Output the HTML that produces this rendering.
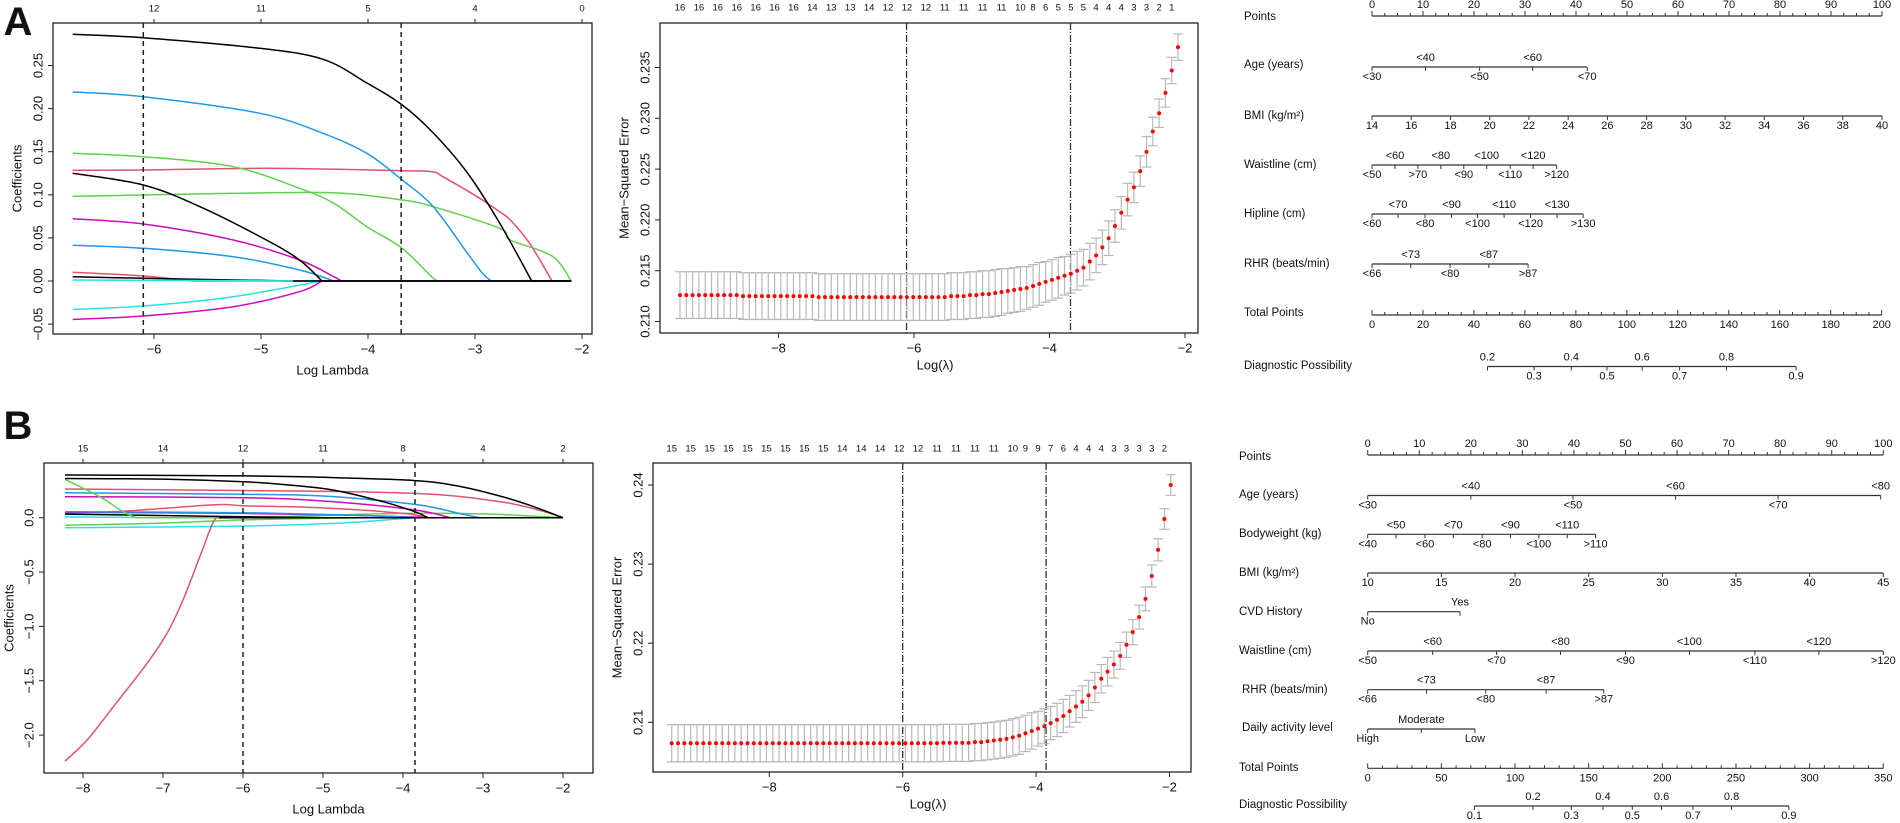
<!DOCTYPE html>
<html><head><meta charset="utf-8"><style>
html,body{margin:0;padding:0;background:#fff}
svg{display:block;font-family:"Liberation Sans",Arial,sans-serif}
</style></head><body>
<svg id="fig" width="1900" height="823" viewBox="0 0 1900 823" xmlns="http://www.w3.org/2000/svg"></svg>
<script>
// ===== Panel A: coefficient paths =====
const aBlack1Lam=[-6.76,-6.10,-5.01,-4.42,-4.01,-3.68,-3.39,-3.07,-2.77,-2.47];
const aBlack1Coef=[0.2862,0.2822,0.2700,0.2572,0.2297,0.2042,0.1717,0.1253,0.0673,0];
const aBlue1Lam=[-6.76,-6.10,-5.01,-4.42,-4.01,-3.68,-3.39,-3.07,-2.93,-2.85];
const aBlue1Coef=[0.2193,0.2138,0.1945,0.1713,0.1481,0.1172,0.0862,0.0321,0.0089,0];
const aGreen1Lam=[-6.76,-6.10,-5.26,-4.64,-4.32,-4.01,-3.68,-3.40,-3.33];
const aGreen1Coef=[0.1481,0.1442,0.1326,0.1075,0.0901,0.0630,0.0379,0.0043,0];
const aRed1Lam=[-6.76,-6.10,-4.95,-3.68,-3.40,-3.30,-2.98,-2.77,-2.67,-2.49,-2.28];
const aRed1Coef=[0.1284,0.1288,0.1307,0.1280,0.1268,0.1210,0.0978,0.0804,0.0708,0.0437,0];
const aGreen2Lam=[-6.76,-6.10,-5.26,-4.32,-3.68,-3.39,-2.77,-2.67,-2.28,-2.10];
const aGreen2Coef=[0.0983,0.0998,0.1017,0.1024,0.0940,0.0862,0.0611,0.0476,0.0290,0];
const aBlack2Lam=[-6.76,-6.10,-5.57,-4.95,-4.64,-4.43];
const aBlack2Coef=[0.1249,0.1114,0.0862,0.0476,0.0244,0];
const aMag1Lam=[-6.76,-6.10,-5.26,-4.64,-4.32,-4.25];
const aMag1Coef=[0.0723,0.0661,0.0476,0.0244,0.0050,0];
const aBlue2Lam=[-6.76,-6.10,-5.26,-4.64,-4.32];
const aBlue2Coef=[0.0414,0.0379,0.0282,0.0128,0];
const aRed2Lam=[-6.76,-6.10,-5.63];
const aRed2Coef=[0.0101,0.0058,0];
const aBlack3Lam=[-6.76,-6.10,-4.70];
const aBlack3Coef=[0.0050,0.0031,0];
const aCyan1Lam=[-6.76,-4.45];
const aCyan1Coef=[0.0012,0];
const aCyan2Lam=[-6.76,-6.10,-5.26,-4.43];
const aCyan2Coef=[-0.0329,-0.0290,-0.0182,0];
const aMag2Lam=[-6.76,-6.10,-5.26,-4.64,-4.43];
const aMag2Coef=[-0.0445,-0.0406,-0.0298,-0.0124,0];
const aTopLam=[-6,-5,-4,-3,-2];
const aTopLab=["12","11","5","4","0"];
const aXTicks=[-6,-5,-4,-3,-2];
const aYTicks=[-0.05,0,0.05,0.10,0.15,0.20,0.25];
const aCuts=[-6.10,-3.69];

// ===== Panel B: coefficient paths =====
const bBlack1Lam=[-8.225,-6,-5,-3.85,-3.3,-2.79,-2.4,-2];
const bBlack1Coef=[0.393,0.385,0.372,0.341,0.29,0.20,0.11,0];
const bBlack2Lam=[-8.225,-7,-6,-5.5,-4.87,-4.25,-3.85,-3.69];
const bBlack2Coef=[0.361,0.355,0.331,0.305,0.254,0.147,0.055,0];
const bRed1Lam=[-8.225,-6,-3.85,-2.79,-2.3,-2];
const bRed1Coef=[0.264,0.25,0.224,0.147,0.07,0];
const bBlue1Lam=[-8.225,-6,-5,-3.85,-3.3,-3.04];
const bBlue1Coef=[0.230,0.215,0.20,0.122,0.04,0];
const bMag1Lam=[-8.225,-6,-4.87,-3.85,-3.41];
const bMag1Coef=[0.193,0.184,0.147,0.071,0];
const bGreen1Lam=[-8.225,-7.79,-7.5,-7.33];
const bGreen1Coef=[0.352,0.193,0.055,0];
const bRed2Lam=[-8.225,-7.5,-6.35,-6,-5,-4,-3.7];
const bRed2Coef=[0.045,0.06,0.12,0.11,0.09,0.04,0];
const bGreen2Lam=[-8.225,-7,-6,-5,-4.5];
const bGreen2Coef=[-0.07,-0.05,-0.02,-0.005,0];
const bGreen3Lam=[-6,-5,-4,-3,-2];
const bGreen3Coef=[0,0.02,0.04,0.035,0];
const bCyan1Lam=[-8.225,-6,-4.87,-3.85];
const bCyan1Coef=[-0.092,-0.077,-0.052,0];
const bCyan2Lam=[-8.225,-7];
const bCyan2Coef=[0.007,0];
const bBlue2Lam=[-8.225,-6,-4.5,-3.85];
const bBlue2Coef=[0.055,0.046,0.02,0];
const bBlack3Lam=[-8.225,-6,-5];
const bBlack3Coef=[0.033,0.009,0];
const bMag2Lam=[-8.225,-6,-4.5,-3.6];
const bMag2Coef=[0.049,0.04,0.02,0];
const bRed3Lam=[-8.225,-7.95,-7.62,-7.2,-6.95,-6.75,-6.54,-6.37,-6.29];
const bRed3Coef=[-2.239,-2.046,-1.739,-1.340,-1.064,-0.757,-0.359,-0.037,0];
const bTopLam=[-8,-7,-6,-5,-4,-3,-2];
const bTopLab=["15","14","12","11","8","4","2"];
const bXTicks=[-8,-7,-6,-5,-4,-3,-2];
const bYTicks=[-2.0,-1.5,-1.0,-0.5,0.0];
const bCuts=[-6.0,-3.85];

// ===== CV MSE A =====
const mseALamStart=-9.454, mseALamStep=0.09305;
const mseA=[.2126,.2126,.2126,.2126,.2126,.2126,.2126,.2126,.2126,.2126,
.2125,.2125,.2125,.2125,.2125,.2125,.2125,.2125,.2125,.2125,
.2125,.2125,.2124,.2124,.2124,.2124,.2124,.2124,.2124,.2124,
.2124,.2124,.2124,.2124,.2124,.2124,.2124,.2124,.2124,.2124,
.2124,.2124,.2124,.2125,.2125,.2125,.2126,.2126,.2127,.2127,
.2128,.2129,.2130,.2131,.2132,.2133,.2135,.2137,.2139,.2141,
.2143,.2145,.2147,.2150,.2153,.2159,.2165,.2173,.2182,.2194,
.2207,.2220,.2232,.2248,.2267,.2287,.2305,.2325,.2347,.2370];
const seA=[.0023,.0023,.0023,.0023,.0023,.0023,.0023,.0023,.0023,.0023,
.0023,.0023,.0023,.0023,.0023,.0023,.0023,.0023,.0023,.0023,
.0023,.0023,.0023,.0023,.0023,.0023,.0023,.0023,.0023,.0023,
.0023,.0023,.0023,.0023,.0023,.0023,.0023,.0023,.0023,.0023,
.0023,.0023,.0023,.0023,.0023,.0023,.0023,.0023,.0023,.0023,
.0023,.0023,.0022,.0022,.0022,.0021,.0021,.0021,.0020,.0020,
.0020,.0019,.0019,.0019,.0018,.0018,.0017,.0017,.0017,.0016,
.0016,.0016,.0015,.0015,.0015,.0014,.0014,.0014,.0013,.0013];
const mseATopIdx=[0,3,6,9,12,15,18,21,24,27,30,33,36,39,42,45,48,51,54,56,58,60,62,64,66,68,70,72,74,76,78];
const mseATopLab=["16","16","16","16","16","16","16","14","13","13","14","12","12","12","11","11","11","11","10","8","6","5","5","5","4","4","4","3","3","2","1"];
const mseAXTicks=[-8,-6,-4,-2];
const mseAYTicks=[0.210,0.215,0.220,0.225,0.230,0.235];

// ===== CV MSE B =====
const mseBLamStart=-9.463, mseBLamStep=0.0947;
const mseB=[.20735,.20735,.20735,.20735,.20735,.20735,.20735,.20735,.20735,.20735,
.20735,.20735,.20735,.20735,.20735,.20735,.20735,.20735,.20735,.20735,
.20735,.20735,.20735,.20735,.20735,.20735,.20735,.20735,.20735,.20735,
.20735,.20735,.20735,.20735,.20735,.20735,.20735,.20735,.20735,.20735,
.20735,.20735,.20735,.2074,.2074,.2074,.2074,.2074,.2075,.2075,
.2076,.2077,.2078,.2079,.2081,.2083,.2086,.2089,.2092,.2095,
.2099,.2103,.2108,.2114,.2120,.2126,.2134,.2144,.2155,.2164,
.2173,.2184,.2198,.2214,.2233,.2256,.2285,.2318,.2357,.2400];
const seB=[.00235,.00235,.00235,.00235,.00235,.00235,.00235,.00235,.00235,.00235,
.00235,.00235,.00235,.00235,.00235,.00235,.00235,.00235,.00235,.00235,
.00235,.00235,.00235,.00235,.00235,.00235,.00235,.00235,.00235,.00235,
.00235,.00235,.00235,.00235,.00235,.00235,.00235,.00235,.00235,.00235,
.00235,.00235,.00235,.00235,.00235,.00235,.00235,.00235,.00235,.00235,
.00235,.00235,.00235,.00235,.00235,.00235,.0023,.0023,.0022,.0022,
.0021,.0021,.0021,.0020,.0020,.0020,.0019,.0019,.0018,.0018,
.0017,.0017,.0016,.0016,.0015,.0015,.0014,.0014,.0013,.0013];
const mseBTopIdx=[0,3,6,9,12,15,18,21,24,27,30,33,36,39,42,45,48,51,54,56,58,60,62,64,66,68,70,72,74,76,78];
const mseBTopLab=["15","15","15","15","15","15","15","15","15","14","14","14","12","12","11","11","11","11","10","9","9","7","6","4","4","4","3","3","3","3","2"];
const mseBXTicks=[-8,-6,-4,-2];
const mseBYTicks=[0.21,0.22,0.23,0.24];

// ===== Nomogram A =====
const nomAPointsMajor=[0,10,20,30,40,50,60,70,80,90,100];
const nomAAgeLab=["<30","<40","<50","<60","<70"];
const nomAAgePts=[0,10.5,21.1,31.5,42.2];
const nomABmiVals=[14,16,18,20,22,24,26,28,30,32,34,36,38,40];
const nomAWaistLab=["<50","<60",">70","<80","<90","<100","<110","<120",">120"];
const nomAWaistPts=[0,4.5,9.0,13.5,18.0,22.5,27.1,31.6,36.2];
const nomAHipLab=["<60","<70","<80","<90","<100","<110","<120","<130",">130"];
const nomAHipPts=[0,5.1,10.4,15.6,20.7,25.9,31.1,36.3,41.4];
const nomARhrLab=["<66","<73","<80","<87",">87"];
const nomARhrPts=[0,7.6,15.3,22.9,30.6];
const nomATotalMajor=[0,20,40,60,80,100,120,140,160,180,200];
const nomADiagLab=["0.2","0.3","0.4","0.5","0.6","0.7","0.8","0.9"];
const nomADiagTot=[45.3,63.6,78.2,92.2,106.0,120.7,139.1,166.4];

// ===== Nomogram B =====
const nomBPointsMajor=[0,10,20,30,40,50,60,70,80,90,100];
const nomBAgeLab=["<30","<40","<50","<60","<70","<80"];
const nomBAgePts=[0,20.0,39.8,59.7,79.6,99.5];
const nomBBwLab=["<40","<50","<60","<70","<80","<90","<100","<110",">110"];
const nomBBwPts=[0,5.5,11.1,16.6,22.2,27.7,33.2,38.7,44.2];
const nomBBmiVals=[10,15,20,25,30,35,40,45];
const nomBCvdLab=["No","Yes"];
const nomBCvdPts=[0,17.9];
const nomBWaistLab=["<50","<60","<70","<80","<90","<100","<110","<120",">120"];
const nomBWaistPts=[0,12.6,25.0,37.4,50.0,62.4,75.1,87.5,100];
const nomBRhrLab=["<66","<73","<80","<87",">87"];
const nomBRhrPts=[0,11.4,22.9,34.6,45.8];
const nomBActLab=["High","Moderate","Low"];
const nomBActPts=[0,10.4,20.8];
const nomBTotalMajor=[0,50,100,150,200,250,300,350];
const nomBDiagLab=["0.1","0.2","0.3","0.4","0.5","0.6","0.7","0.8","0.9"];
const nomBDiagTot=[72.4,112.2,138.2,159.7,179.6,199.5,220.8,247.0,285.9];

const NS="http://www.w3.org/2000/svg";
const svg=document.getElementById('fig');
function mk(tag,attrs,name,parent){
  const e=document.createElementNS(NS,tag);
  for(const k in attrs) e.setAttribute(k,attrs[k]);
  
  
  (parent||svg).appendChild(e);
  return e;
}
function line(x1,y1,x2,y2,name,stroke,w,dash,parent){
  const a={x1:x1,y1:y1,x2:x2,y2:y2,stroke:stroke||'#222','stroke-width':w||1};
  if(dash) a['stroke-dasharray']=dash;
  return mk('line',a,name,parent);
}
function txt(x,y,s,size,anchor,name,rot,parent,weight){
  const a={x:x,y:y,'font-size':size,'text-anchor':anchor||'middle','dominant-baseline':'central',fill:'#111'};
  if(rot) a.transform='rotate('+rot+' '+x+' '+y+')';
  if(weight) a['font-weight']=weight;
  const t=mk('text',a,name,parent);
  t.textContent=s;
  return t;
}
function fmt(v,d){return (v<0?'\u2212':'')+Math.abs(v).toFixed(d);}
function smoothPath(pts){
  if(pts.length<3){return 'M'+pts.map(p=>p[0].toFixed(1)+','+p[1].toFixed(1)).join(' L');}
  let d='M'+pts[0][0].toFixed(1)+','+pts[0][1].toFixed(1);
  for(let i=0;i<pts.length-1;i++){
    const p0=pts[Math.max(0,i-1)],p1=pts[i],p2=pts[i+1],p3=pts[Math.min(pts.length-1,i+2)];
    const c1=[p1[0]+(p2[0]-p0[0])/6,p1[1]+(p2[1]-p0[1])/6];
    const c2=[p2[0]-(p3[0]-p1[0])/6,p2[1]-(p3[1]-p1[1])/6];
    d+=' C'+c1[0].toFixed(1)+','+c1[1].toFixed(1)+' '+c2[0].toFixed(1)+','+c2[1].toFixed(1)+' '+p2[0].toFixed(1)+','+p2[1].toFixed(1);
  }
  return d;
}
const COL={black:'#000',red:'#DF536B',green:'#61D04F',blue:'#2297E6',cyan:'#28E2E5',mag:'#CD0BBC'};

// ---------- Coefficient panel ----------
function coefPanel(P){
  const g=mk('g',{},P.name);
  mk('rect',{x:P.L,y:P.T,width:P.R-P.L,height:P.B-P.T,fill:'none',stroke:'#222','stroke-width':1.3},'plot-frame',g);
  P.series.forEach(s=>{
    const pts=s.lam.map((l,i)=>[P.x(l),P.y(s.coef[i])]);
    mk('path',{d:smoothPath(pts),fill:'none',stroke:COL[s.col],'stroke-width':1.5},'coef-path-'+s.id,g);
    const last=s.lam[s.lam.length-1];
    if(last<P.lamEnd){
      line(P.x(last),P.y(0),P.x(P.lamEnd),P.y(0),'coef-zero-tail-'+s.id,COL[s.col],1.5,null,g);
    }
  });
  line(P.x(P.zeroFrom),P.y(0),P.x(P.lamEnd),P.y(0),'zero-line',COL.black,1.5,null,g);
  P.cuts.forEach((c,i)=>line(P.x(c),P.T,P.x(c),P.B,'lambda-cutoff-'+(i?'1se':'min'),'#222',1.5,'5,4',g));
  P.xt.forEach(v=>{
    line(P.x(v),P.B,P.x(v),P.B+5,'x-tick',null,1,null,g);
    txt(P.x(v),P.B+15,fmt(v,0),13,'middle','x-tick-label',0,g);
  });
  P.yt.forEach(v=>{
    line(P.L-5,P.y(v),P.L,P.y(v),'y-tick',null,1,null,g);
    txt(P.L-15,P.y(v),fmt(v,P.yd),13,'middle','y-tick-label',-90,g);
  });
  P.topLam.forEach((l,i)=>{
    line(P.x(l),P.T-4,P.x(l),P.T,'top-tick',null,1,null,g);
    txt(P.x(l),P.T-14,P.topLab[i],9.5,'middle','top-count-label',0,g);
  });
  txt((P.L+P.R)/2+10,P.B+36,'Log Lambda',13,'middle','x-axis-title',0,g);
  txt(P.yTitleX,(P.T+P.B)/2,'Coefficients',13,'middle','y-axis-title',-90,g);
}
const xA=l=>582+(l+2)*107, yA=c=>281-c*862;
const xB=l=>563+(l+2)*80, yB=c=>517.7-c*108.7;
coefPanel({name:'panel-a-coef-path-chart',L:53,R:592,T:23,B:334,x:xA,y:yA,lamEnd:-2.1,zeroFrom:-4.7,yd:2,
  xt:aXTicks,yt:aYTicks,topLam:aTopLam,topLab:aTopLab,cuts:aCuts,yTitleX:17,
  series:[
   {id:'a-green2',col:'green',lam:aGreen2Lam,coef:aGreen2Coef},
   {id:'a-red1',col:'red',lam:aRed1Lam,coef:aRed1Coef},
   {id:'a-green1',col:'green',lam:aGreen1Lam,coef:aGreen1Coef},
   {id:'a-blue1',col:'blue',lam:aBlue1Lam,coef:aBlue1Coef},
   {id:'a-mag1',col:'mag',lam:aMag1Lam,coef:aMag1Coef},
   {id:'a-blue2',col:'blue',lam:aBlue2Lam,coef:aBlue2Coef},
   {id:'a-red2',col:'red',lam:aRed2Lam,coef:aRed2Coef},
   {id:'a-black3',col:'black',lam:aBlack3Lam,coef:aBlack3Coef},
   {id:'a-cyan1',col:'cyan',lam:aCyan1Lam,coef:aCyan1Coef},
   {id:'a-cyan2',col:'cyan',lam:aCyan2Lam,coef:aCyan2Coef},
   {id:'a-mag2',col:'mag',lam:aMag2Lam,coef:aMag2Coef},
   {id:'a-black2',col:'black',lam:aBlack2Lam,coef:aBlack2Coef},
   {id:'a-black1',col:'black',lam:aBlack1Lam,coef:aBlack1Coef}
  ]});
coefPanel({name:'panel-b-coef-path-chart',L:44,R:593,T:463,B:773,x:xB,y:yB,lamEnd:-2.0,zeroFrom:-6.3,yd:1,
  xt:bXTicks,yt:bYTicks,topLam:bTopLam,topLab:bTopLab,cuts:bCuts,yTitleX:9,
  series:[
   {id:'b-green3',col:'green',lam:bGreen3Lam,coef:bGreen3Coef},
   {id:'b-red1',col:'red',lam:bRed1Lam,coef:bRed1Coef},
   {id:'b-blue1',col:'blue',lam:bBlue1Lam,coef:bBlue1Coef},
   {id:'b-mag1',col:'mag',lam:bMag1Lam,coef:bMag1Coef},
   {id:'b-red2',col:'red',lam:bRed2Lam,coef:bRed2Coef},
   {id:'b-mag2',col:'mag',lam:bMag2Lam,coef:bMag2Coef},
   {id:'b-blue2',col:'blue',lam:bBlue2Lam,coef:bBlue2Coef},
   {id:'b-black3',col:'black',lam:bBlack3Lam,coef:bBlack3Coef},
   {id:'b-cyan2',col:'cyan',lam:bCyan2Lam,coef:bCyan2Coef},
   {id:'b-green2',col:'green',lam:bGreen2Lam,coef:bGreen2Coef},
   {id:'b-cyan1',col:'cyan',lam:bCyan1Lam,coef:bCyan1Coef},
   {id:'b-green1',col:'green',lam:bGreen1Lam,coef:bGreen1Coef},
   {id:'b-red3',col:'red',lam:bRed3Lam,coef:bRed3Coef},
   {id:'b-black2',col:'black',lam:bBlack2Lam,coef:bBlack2Coef},
   {id:'b-black1',col:'black',lam:bBlack1Lam,coef:bBlack1Coef}
  ]});

// ---------- MSE panel ----------
function msePanel(P){
  const g=mk('g',{},P.name);
  mk('rect',{x:P.L,y:P.T,width:P.R-P.L,height:P.B-P.T,fill:'none',stroke:'#222','stroke-width':1.3},'plot-frame',g);
  P.cuts.forEach((c,i)=>line(P.x(c),P.T,P.x(c),P.B,'lambda-cutoff-'+(i?'1se':'min'),'#333',1.3,'7,2,1,2',g));
  P.mse.forEach((m,i)=>{
    const l=P.start+P.step*i, x=P.x(l), yu=P.y(m+P.se[i]), yl=P.y(m-P.se[i]);
    line(x,yu,x,yl,'error-bar',"#b8b8b8",1.2,null,g);
    line(x-5,yu,x+5,yu,'error-cap-upper',"#b8b8b8",1.2,null,g);
    line(x-5,yl,x+5,yl,'error-cap-lower',"#b8b8b8",1.2,null,g);
  });
  P.mse.forEach((m,i)=>{
    const l=P.start+P.step*i;
    mk('circle',{cx:P.x(l),cy:P.y(m),r:2,fill:'#f00'},'mse-point',g);
  });
  P.topIdx.forEach((idx,i)=>txt(P.x(P.start+P.step*idx),P.topY,P.topLab[i],9.5,'middle','top-count-label',0,g));
  P.xt.forEach(v=>{
    line(P.x(v),P.B,P.x(v),P.B+5,'x-tick',null,1,null,g);
    txt(P.x(v),P.B+15,fmt(v,0),13,'middle','x-tick-label',0,g);
  });
  P.yt.forEach(v=>{
    line(P.L-5,P.y(v),P.L,P.y(v),'y-tick',null,1,null,g);
    txt(P.L-15,P.y(v),v.toFixed(P.yd),13,'middle','y-tick-label',-90,g);
  });
  txt((P.L+P.R)/2+6,P.B+32,'Log(\u03bb)',13,'middle','x-axis-title',0,g);
  txt(P.L-36,(P.T+P.B)/2,'Mean\u2212Squared Error',13,'middle','y-axis-title',-90,g);
}
msePanel({name:'panel-a-cv-mse-chart',L:660,R:1198,T:23,B:333,x:l=>914+(l+6)*67.75,y:m=>321.5-(m-0.21)*10160,
  start:mseALamStart,step:mseALamStep,mse:mseA,se:seA,topIdx:mseATopIdx,topLab:mseATopLab,topY:8,
  xt:mseAXTicks,yt:mseAYTicks,yd:3,cuts:[-6.11,-3.69]});
msePanel({name:'panel-b-cv-mse-chart',L:653,R:1191,T:463,B:772,x:l=>902.7+(l+6)*66.7,y:m=>722.3-(m-0.21)*7910,
  start:mseBLamStart,step:mseBLamStep,mse:mseB,se:seB,topIdx:mseBTopIdx,topLab:mseBTopLab,topY:449,
  xt:mseBXTicks,yt:mseBYTicks,yd:2,cuts:[-6.0,-3.85]});

// ---------- Nomograms ----------
function nomAxis(g,N,label,ly,ay,pxArr,labArr,sideFn,lx){
  txt(lx||N.lx,ly,label,11.5,'start','row-label',0,g);
  const x0=Math.min(...pxArr),x1=Math.max(...pxArr);
  line(x0,ay,x1,ay,'axis-line','#333',1.2,null,g);
  pxArr.forEach((x,i)=>{
    const up=sideFn(i);
    line(x,ay,x,ay+4,'axis-tick','#333',1,null,g);
    txt(x,up?ay-9:ay+10,labArr[i],11,'middle','tick-label',0,g);
  });
}
function nomogram(N){
  const g=mk('g',{},N.name);
  // points scale
  const P=N.points;
  txt(N.lx,P.ly,'Points',11.5,'start','row-label',0,g);
  line(N.x(0),P.ay,N.x(100),P.ay,'points-axis-line','#333',1.2,null,g);
  for(let v=0;v<=100;v+=2.5){line(N.x(v),P.ay,N.x(v),P.ay-(v%10===0?5:3),'points-tick','#333',1,null,g);}
  P.major.forEach(v=>txt(N.x(v),P.ay-11,String(v),11,'middle','points-tick-label',0,g));
  N.rows.forEach(r=>{
    nomAxis(g,N,r.label,r.ly,r.ay,r.pts.map(N.x),r.labs,r.side,r.lx);
  });
  const T=N.total;
  txt(N.lx,T.ly,'Total Points',11.5,'start','row-label',0,g);
  line(N.tx(0),T.ay,N.tx(T.max),T.ay,'total-points-axis-line','#333',1.2,null,g);
  for(let v=0;v<=T.max;v+=T.minor){line(N.tx(v),T.ay,N.tx(v),T.ay-(v%T.step===0?5:3),'total-points-tick','#333',1,null,g);}
  T.major.forEach(v=>txt(N.tx(v),T.ay+10,String(v),11,'middle','total-points-tick-label',0,g));
  const D=N.diag;
  nomAxis(g,N,'Diagnostic Possibility',D.ly,D.ay,D.tot.map(N.tx),D.labs,D.side);
}
const alt=start=>(i=>(i%2===1)===start);
nomogram({name:'panel-a-nomogram',lx:1244,x:p=>1372+p*5.1,tx:t=>1372+t*2.5485,
  points:{ly:17,ay:16,major:nomAPointsMajor},
  rows:[
    {label:'Age (years)',ly:65,ay:67,pts:nomAAgePts,labs:nomAAgeLab,side:alt(true)},
    {label:'BMI (kg/m\u00b2)',ly:116,ay:116,pts:nomABmiVals.map(v=>(v-14)/26*100),labs:nomABmiVals.map(String),side:()=>false},
    {label:'Waistline (cm)',ly:165,ay:165,pts:nomAWaistPts,labs:nomAWaistLab,side:alt(true)},
    {label:'Hipline (cm)',ly:214,ay:214,pts:nomAHipPts,labs:nomAHipLab,side:alt(true)},
    {label:'RHR (beats/min)',ly:264,ay:264,pts:nomARhrPts,labs:nomARhrLab,side:alt(true)}
  ],
  total:{ly:313,ay:315,max:200,minor:5,step:20,major:nomATotalMajor},
  diag:{ly:366,ay:366.5,tot:nomADiagTot,labs:nomADiagLab,side:i=>i%2===0}
});
nomogram({name:'panel-b-nomogram',lx:1239,x:p=>1367.7+p*5.156,tx:t=>1367.7+t*1.4731,
  points:{ly:457,ay:455,major:nomBPointsMajor},
  rows:[
    {label:'Age (years)',ly:495,ay:495.5,pts:nomBAgePts,labs:nomBAgeLab,side:alt(true)},
    {label:'Bodyweight (kg)',ly:534,ay:534.3,pts:nomBBwPts,labs:nomBBwLab,side:alt(true)},
    {label:'BMI (kg/m\u00b2)',ly:573,ay:573,pts:nomBBmiVals.map(v=>(v-10)/35*100),labs:nomBBmiVals.map(String),side:()=>false},
    {label:'CVD History',ly:612,ay:611.7,pts:nomBCvdPts,labs:nomBCvdLab,side:alt(true)},
    {label:'Waistline (cm)',ly:651,ay:651,pts:nomBWaistPts,labs:nomBWaistLab,side:alt(true)},
    {label:'RHR (beats/min)',ly:690,ay:689.7,pts:nomBRhrPts,labs:nomBRhrLab,side:alt(true),lx:1242},
    {label:'Daily activity level',ly:728,ay:729,pts:nomBActPts,labs:nomBActLab,side:alt(true),lx:1242}
  ],
  total:{ly:768,ay:768.3,max:350,minor:10,step:50,major:nomBTotalMajor},
  diag:{ly:805,ay:806,tot:nomBDiagTot,labs:nomBDiagLab,side:alt(true)}
});

// panel letters
txt(18,22,'A',40,'middle','panel-label-a',0,svg,'bold');
txt(18,426,'B',40,'middle','panel-label-b',0,svg,'bold');
</script>
</body></html>
